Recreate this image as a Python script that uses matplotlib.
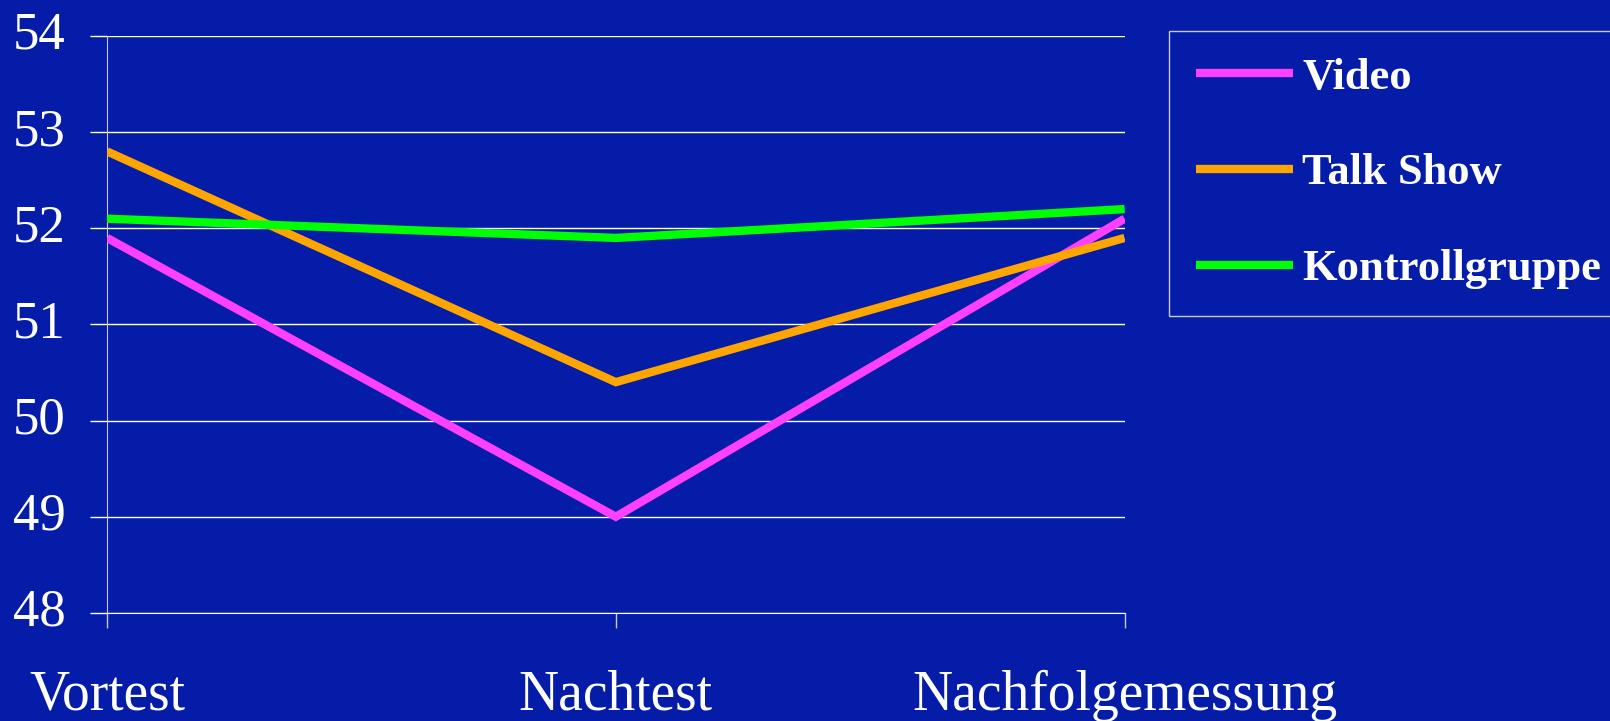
import matplotlib.pyplot as plt
from matplotlib.transforms import ScaledTranslation

# data
categories = ['Vortest', 'Nachtest', 'Nachfolgemessung']
video = [51.9, 49.0, 52.1]
talkshow = [52.8, 50.4, 51.9]
kontroll = [52.1, 51.9, 52.2]
yticks = [48, 49, 50, 51, 52, 53, 54]

bg = '#041CA8'

fig = plt.figure(figsize=(16.1, 7.21), dpi=100, facecolor=bg)
ax = fig.add_axes([0.0665, 0.150, 0.632, 0.800], facecolor=bg)

x = list(range(len(categories)))
style = dict(linewidth=6, solid_capstyle='butt', solid_joinstyle='miter', zorder=3)
ax.plot(x, video, color='#FF40FF', label='Video', **style)
ax.plot(x, talkshow, color='#FFA500', label='Talk Show', **style)
ax.plot(x, kontroll, color='#00FF00', label='Kontrollgruppe', **style)

ax.set_xlim(0, 2)
ax.set_ylim(48, 54)
ax.set_yticks(yticks)
ax.set_xticks(x)
ax.set_xticklabels(categories)
ax.grid(axis='y', color='white', linewidth=1)

for s in ['top', 'right']:
    ax.spines[s].set_visible(False)
ax.spines['left'].set_color('#C8C8D8')
ax.spines['bottom'].set_color('white')

ax.tick_params(axis='y', colors='white', length=12, width=1, pad=18,
               labelsize=38, direction='out')
ax.tick_params(axis='x', colors='#C8C8D8', length=11, width=1, pad=30,
               labelsize=40, labelcolor='white', direction='out')
for lab in ax.get_xticklabels() + ax.get_yticklabels():
    lab.set_family('Liberation Serif')
# numbers sit a bit above their gridline in the original
up = ScaledTranslation(0, 4 / 72, fig.dpi_scale_trans)
for lab in ax.get_yticklabels():
    lab.set_transform(lab.get_transform() + up)

leg = ax.legend(loc='upper left', bbox_to_anchor=(0.7261, 0.957),
                bbox_transform=fig.transFigure, frameon=True, fancybox=False,
                facecolor=bg, edgecolor='#C8C8D8', framealpha=1,
                handlelength=2.2, handletextpad=0.2, labelspacing=1.25,
                borderpad=0.6, borderaxespad=0,
                prop={'family': 'Liberation Serif', 'weight': 'bold', 'size': 32})
for t in leg.get_texts():
    t.set_color('white')
leg.get_frame().set_linewidth(1)

fig.savefig('out.png', dpi=100, facecolor=bg)
